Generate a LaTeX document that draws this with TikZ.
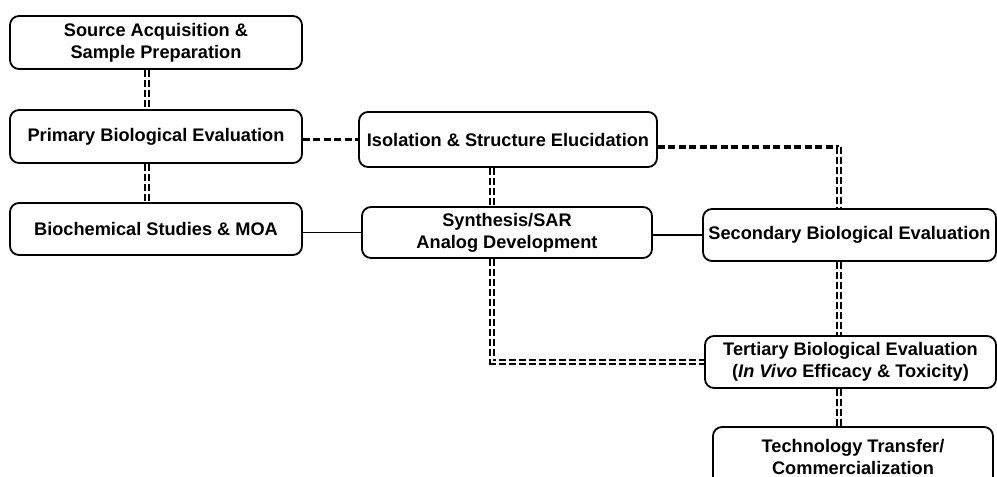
\documentclass[tikz,border=0pt]{standalone}
\usepackage{fontspec}
\setmainfont{Liberation Sans}
\usetikzlibrary{calc}
\tikzset{
  stage/.style={draw, line width=1.8pt, rounded corners=9pt, inner sep=0pt,
    align=center, font=\fontsize{18.2}{22}\selectfont\bfseries},
  dbl/.style={double, double distance=2.3pt, line width=1.6pt, dash pattern=on 7pt off 3pt},
  thickdash/.style={line width=3.3pt, dash pattern=on 7pt off 3.5pt},
  solidlink/.style={line width=1.5pt}
}
\begin{document}
\begin{tikzpicture}[x=1pt,y=-1pt]
\useasboundingbox (0,0) rectangle (997,477);
\node[stage, minimum width=292pt, minimum height=53pt] (src) at (156,42.5) {Source Acquisition \&\\Sample Preparation};
\node[stage, minimum width=292pt, minimum height=53pt] (prim) at (156,136.5) {Primary Biological Evaluation};
\node[stage, minimum width=292pt, minimum height=52pt] (bio) at (156,229) {Biochemical Studies \& MOA};
\node[stage, minimum width=298pt, minimum height=55pt] (iso) at (508,139.5) {Isolation \& Structure Elucidation};
\node[stage, minimum width=290pt, minimum height=51pt] (syn) at (507,232.5) {Synthesis/SAR\\Analog Development};
\node[stage, minimum width=293pt, minimum height=52pt] (sec) at (849.5,235) {Secondary Biological Evaluation};
\node[stage, minimum width=291pt, minimum height=52pt] (ter) at (850.5,362) {Tertiary Biological Evaluation\\(\textit{In Vivo} Efficacy \& Toxicity)};
\node[stage, minimum width=280pt, minimum height=60pt] (tech) at (853,457) {Technology Transfer/\\Commercialization};

\coordinate (ca) at (147,0);
\coordinate (cb) at (492,0);
\coordinate (k) at (839,147);

\draw[dbl] (src.south -| ca) -- (prim.north -| ca);
\draw[dbl] (prim.south -| ca) -- (bio.north -| ca);
\draw[thickdash] (prim.east |- iso.west) -- (iso.west);
\draw[thickdash] (iso.east |- k) -- (k);
\draw[dbl] (k) -- (sec.north -| k);
\draw[dbl] (iso.south -| cb) -- (syn.north -| cb);
\draw[solidlink] (bio.east |- syn.west) -- (syn.west);
\draw[solidlink] (syn.east |- sec.west) -- (sec.west);
\draw[dbl] (syn.south -| cb) -- (cb |- ter.west) -- (ter.west);
\draw[dbl] (sec.south -| k) -- (ter.north -| k);
\draw[dbl] (ter.south -| k) -- (tech.north -| k);
\end{tikzpicture}
\end{document}
